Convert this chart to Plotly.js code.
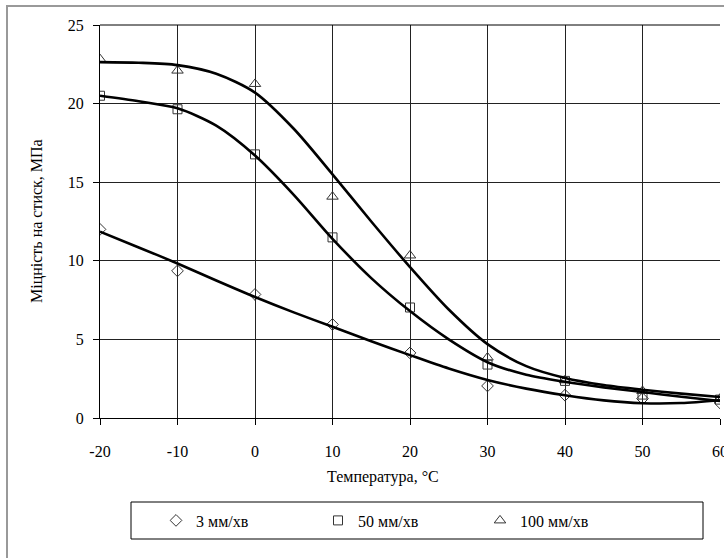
<!DOCTYPE html>
<html>
<head>
<meta charset="utf-8">
<script src="https://cdn.plot.ly/plotly-3.0.1.min.js"></script>
<style>html,body{margin:0;padding:0;background:#fff;}</style>
</head>
<body>
<div id="chart" style="width:724px;height:558px;"></div>
<script>
// Measured points
const temps = [-20, -10, 0, 10, 20, 30, 40, 50, 60];
const s3 = [12.0, 9.36, 7.86, 5.95, 4.14, 2.04, 1.45, 1.23, 0.96];
const s50 = [20.5, 19.64, 16.77, 11.49, 7.03, 3.4, 2.36, 1.49, 1.17];
const s100 = [22.83, 22.1, 21.25, 14.08, 10.34, 3.85, 2.4, 1.72, 1.23];

// Trend curves
const curveT = [-20, -15, -10, -5, 0, 5, 10, 15, 20, 25, 30, 35, 40, 45, 50, 55, 60];
const c3 = [11.85, 10.85, 9.83, 8.75, 7.7, 6.72, 5.8, 4.88, 4.0, 3.15, 2.42, 1.87, 1.45, 1.12, 0.94, 0.95, 1.13];
const c50 = [20.5, 20.15, 19.7, 18.6, 16.7, 14.2, 11.4, 8.9, 6.8, 5.0, 3.55, 2.75, 2.3, 1.95, 1.65, 1.35, 1.08];
const c100 = [22.64, 22.6, 22.45, 21.9, 20.7, 18.4, 15.5, 12.5, 9.6, 6.9, 4.7, 3.3, 2.55, 2.1, 1.8, 1.55, 1.34];

const seriesNames = ['3 мм/хв', '50 мм/хв', '100 мм/хв'];
const xTicks = [-20, -10, 0, 10, 20, 30, 40, 50, 60];
const yTicks = [0, 5, 10, 15, 20, 25];

const font = 'Liberation Serif';
const mcol = '#333333';

const lineStyle = {color: '#000', width: 2.6, shape: 'spline', smoothing: 0.8};
const traces = [
  {x: temps, y: s3, mode: 'markers', name: seriesNames[0], marker: {symbol: 'diamond-open', size: 9, color: mcol, line: {width: 1}}},
  {x: temps, y: s50, mode: 'markers', name: seriesNames[1], marker: {symbol: 'square-open', size: 9, color: mcol, line: {width: 1}}},
  {x: temps, y: s100, mode: 'markers', name: seriesNames[2], marker: {symbol: 'triangle-up-open', size: 10, color: mcol, line: {width: 1}}},
  {x: curveT, y: c3, mode: 'lines', line: lineStyle, showlegend: false, hoverinfo: 'skip'},
  {x: curveT, y: c50, mode: 'lines', line: lineStyle, showlegend: false, hoverinfo: 'skip'},
  {x: curveT, y: c100, mode: 'lines', line: lineStyle, showlegend: false, hoverinfo: 'skip'}
];

const W = 620, H = 393, L = 100, T = 25;
const px = v => (v - L) / W;
const py = v => (T + H - v) / H;

const layout = {
  width: 724, height: 558,
  margin: {l: 100, r: 4, t: 25, b: 140},
  paper_bgcolor: '#fff', plot_bgcolor: '#fff',
  font: {family: font, size: 16, color: '#000'},
  showlegend: true,
  legend: {
    orientation: 'h', x: px(156), xanchor: 'left', y: py(520.5), yanchor: 'middle',
    entrywidth: 117, entrywidthmode: 'pixels', itemwidth: 30, borderwidth: 0, bgcolor: 'rgba(0,0,0,0)',
    font: {family: font, size: 16, color: '#000'}
  },
  xaxis: {
    range: [-20, 60], tickvals: xTicks, ticktext: xTicks.map(String),
    showgrid: true, gridcolor: '#222', gridwidth: 1,
    showline: true, linecolor: '#000', linewidth: 1, mirror: false,
    ticks: 'outside', ticklen: 6, tickcolor: '#000', ticklabelstandoff: 13,
    ticklabeloverflow: 'allow', zeroline: false, fixedrange: true
  },
  yaxis: {
    range: [0, 25], tickvals: yTicks, ticktext: yTicks.map(String),
    showgrid: true, gridcolor: '#222', gridwidth: 1,
    showline: true, linecolor: '#000', linewidth: 1,
    ticks: 'outside', ticklen: 6, tickcolor: '#000', ticklabelstandoff: 6,
    zeroline: false, fixedrange: true
  },
  annotations: [
    {text: 'Температура, °C', xref: 'paper', yref: 'paper', x: px(383), y: py(477), showarrow: false, xanchor: 'center', yanchor: 'middle', font: {family: font, size: 16}},
    {text: 'Міцність на стиск, МПа', xref: 'paper', yref: 'paper', x: px(37), y: py(221), showarrow: false, textangle: -90, xanchor: 'center', yanchor: 'middle', font: {family: font, size: 16}}
  ],
  shapes: [
    {type: 'line', xref: 'paper', yref: 'paper', x0: px(100), x1: px(720), y0: 1, y1: 1, line: {color: '#000', width: 1}},
    {type: 'rect', xref: 'paper', yref: 'paper', x0: px(131), x1: px(703), y0: py(539), y1: py(502), line: {color: '#000', width: 1}},
    {type: 'rect', xref: 'paper', yref: 'paper', x0: px(7), x1: px(740), y0: py(575), y1: py(6), line: {color: '#999', width: 2}}
  ]
};

Plotly.newPlot('chart', traces, layout, {displayModeBar: false, staticPlot: true});
</script>
</body>
</html>
